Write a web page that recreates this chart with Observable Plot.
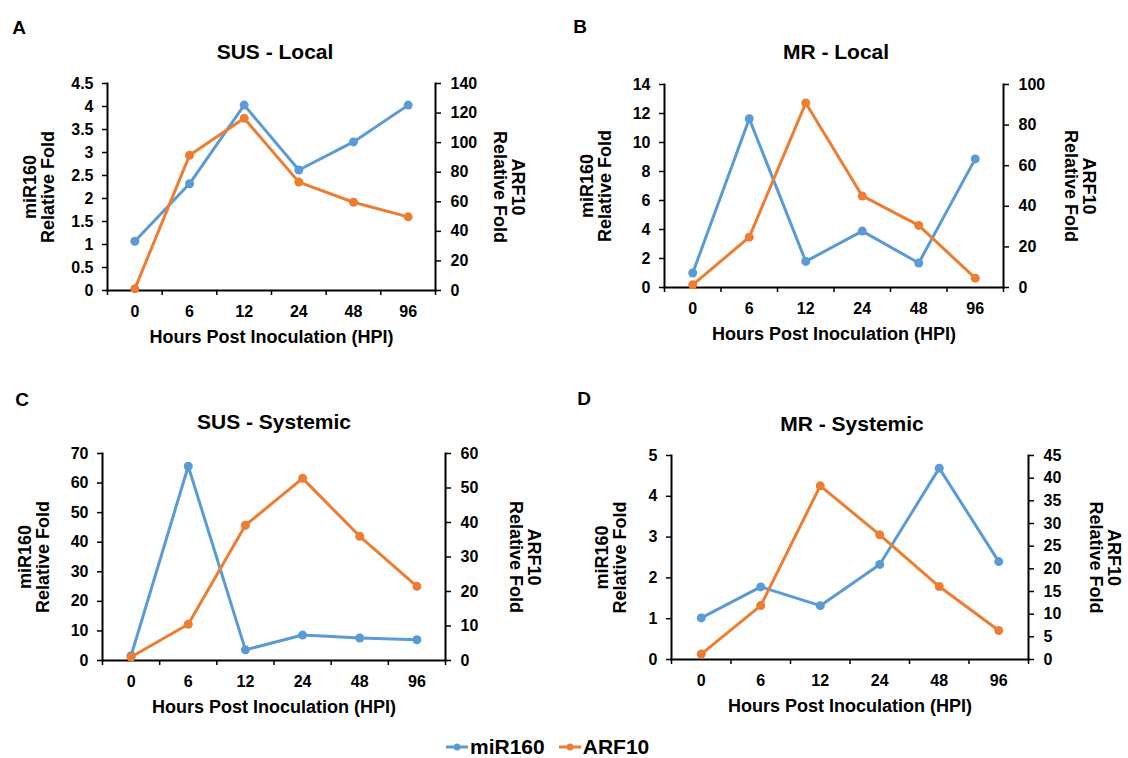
<!DOCTYPE html>
<html><head><meta charset="utf-8">
<script src="https://cdn.jsdelivr.net/npm/d3@7"></script>
<script src="https://cdn.jsdelivr.net/npm/@observablehq/plot@0.6"></script>
<style>
body{margin:0;background:#fff;font-family:"Liberation Sans",Arial,sans-serif;}
#root{position:relative;width:1128px;height:758px;overflow:hidden;background:#fff;}
.abs{position:absolute;transform:translate(-50%,-50%);white-space:nowrap;font-weight:bold;color:#000;line-height:1;}
#root svg{position:absolute;}
.legend{position:absolute;left:446px;top:735px;height:24px;display:flex;align-items:center;font-weight:bold;font-size:21px;color:#000;}
.legend .item{display:flex;align-items:center;margin-right:14px;}
.legend svg{position:static !important;margin-right:2px;}
</style></head><body><div id="root"></div>
<script>
// ---- data ----
const hpi = ["0", "6", "12", "24", "48", "96"];
const panelLetters = ["A", "B", "C", "D"];
const panelTitles = ["SUS - Local", "MR - Local", "SUS - Systemic", "MR - Systemic"];
const seriesNames = ["miR160", "ARF10"];
const seriesColors = ["#5B9BD5", "#ED7D31"];
const xTitle = "Hours Post Inoculation (HPI)";
const leftTitle = "miR160\nRelative Fold";
const rightTitle = "ARF10\nRelative Fold";

const mir160_A = [1.07, 2.32, 4.03, 2.62, 3.23, 4.03];
const arf10_A  = [1.1, 91.4, 116.5, 73.3, 59.7, 49.8];
const mir160_B = [1.0, 11.64, 1.8, 3.89, 1.69, 8.87];
const arf10_B  = [1.3, 24.8, 90.9, 45.1, 30.6, 4.6];
const mir160_C = [1.6, 65.7, 3.6, 8.6, 7.6, 7.0];
const arf10_C  = [1.0, 10.5, 39.2, 52.8, 36.0, 21.5];
const mir160_D = [1.02, 1.78, 1.32, 2.33, 4.69, 2.40];
const arf10_D  = [1.2, 11.9, 38.3, 27.5, 16.1, 6.4];

const leftMax  = [4.5, 14, 70, 5];
const leftStep = [0.5, 2, 10, 1];
const rightMax  = [140, 100, 60, 45];
const rightStep = [20, 20, 10, 5];

// ---- layout ----
const mirs = [mir160_A, mir160_B, mir160_C, mir160_D];
const arfs = [arf10_A, arf10_B, arf10_C, arf10_D];
const layout = [
  {left: 0,   top: 70,  width: 560, height: 290, mL: 107, mR: 125, mT: 13, mB: 70, lx: -68, rx: 73, letter: [19, 27],  title: [275, 51]},
  {left: 560, top: 70,  width: 568, height: 290, mL: 104, mR: 125, mT: 14, mB: 73, lx: -68, rx: 76, letter: [580, 26], title: [836, 51]},
  {left: 0,   top: 440, width: 560, height: 300, mL: 102, mR: 115, mT: 13, mB: 80, lx: -68, rx: 79, letter: [22, 399], title: [274, 421]},
  {left: 560, top: 440, width: 568, height: 300, mL: 111, mR: 100, mT: 15, mB: 81, lx: -60, rx: 76, letter: [584, 398], title: [852, 423]}
];

const root = document.getElementById("root");
const fmt = v => String(+(+v).toFixed(2));

layout.forEach((L, p) => {
  const k = leftMax[p] / rightMax[p];
  const rows = hpi.map((h, i) => ({i, h, mir: mirs[p][i], arf: arfs[p][i]}));
  const xc = d => d.i + 0.5;
  const chart = Plot.plot({
    width: L.width, height: L.height,
    marginLeft: L.mL, marginRight: L.mR, marginTop: L.mT, marginBottom: L.mB,
    x: {domain: [0, hpi.length], axis: null},
    y: {domain: [0, leftMax[p]], axis: null},
    style: {fontFamily: '"Liberation Sans", Arial, sans-serif', fontSize: "16px", fontWeight: "bold", color: "#000", background: "transparent", overflow: "visible"},
    marks: [
      Plot.axisY({anchor: "left", ticks: d3.range(0, leftMax[p] + leftStep[p] / 2, leftStep[p]), tickSize: 5, tickPadding: 9, label: null, tickFormat: fmt, strokeWidth: 1.5}),
      Plot.axisY({anchor: "right", ticks: d3.range(0, rightMax[p] + rightStep[p] / 2, rightStep[p]).map(v => v * k), tickSize: 5, tickPadding: 10, label: null, tickFormat: v => fmt(Math.round(v / k * 100) / 100), strokeWidth: 1.5}),
      Plot.axisX({ticks: d3.range(0, hpi.length + 1), tickSize: 5, tickFormat: () => "", label: null, strokeWidth: 1.5}),
      Plot.axisX({ticks: hpi.map((h, i) => i + 0.5), tickSize: 0, tickPadding: 15, tickFormat: v => hpi[Math.floor(v)], label: null}),
      Plot.frame({anchor: "left", strokeWidth: 2}),
      Plot.frame({anchor: "right", strokeWidth: 2}),
      Plot.frame({anchor: "bottom", strokeWidth: 2}),
      Plot.lineY(rows, {x: xc, y: "mir", stroke: seriesColors[0], strokeWidth: 3}),
      Plot.dot(rows, {x: xc, y: "mir", fill: seriesColors[0], r: 4.5}),
      Plot.lineY(rows, {x: xc, y: d => d.arf * k, stroke: seriesColors[1], strokeWidth: 3}),
      Plot.dot(rows, {x: xc, y: d => d.arf * k, fill: seriesColors[1], r: 4.5}),
      Plot.text([leftTitle], {frameAnchor: "left", textAnchor: "middle", lineAnchor: "middle", rotate: -90, dx: L.lx, fontSize: 18, lineHeight: 1.0}),
      Plot.text([rightTitle], {frameAnchor: "right", textAnchor: "middle", lineAnchor: "middle", rotate: 90, dx: L.rx, fontSize: 18, lineHeight: 1.0}),
      Plot.text([xTitle], {frameAnchor: "bottom", lineAnchor: "middle", dy: 47, fontSize: 18})
    ]
  });
  chart.style.left = L.left + "px";
  chart.style.top = L.top + "px";
  root.appendChild(chart);

  const t = document.createElement("div");
  t.className = "abs";
  t.style.left = L.title[0] + "px"; t.style.top = L.title[1] + "px"; t.style.fontSize = "21px";
  t.textContent = panelTitles[p];
  root.appendChild(t);

  const a = document.createElement("div");
  a.className = "abs";
  a.style.left = L.letter[0] + "px"; a.style.top = L.letter[1] + "px"; a.style.fontSize = "19px";
  a.textContent = panelLetters[p];
  root.appendChild(a);
});

// legend
const leg = document.createElement("div");
leg.className = "legend";
seriesNames.forEach((name, i) => {
  const item = document.createElement("div");
  item.className = "item";
  item.innerHTML = `<svg width="22" height="10"><line x1="0" y1="5" x2="22" y2="5" stroke="${seriesColors[i]}" stroke-width="3"/><circle cx="11" cy="5" r="3.5" fill="${seriesColors[i]}"/></svg><span>${name}</span>`;
  leg.appendChild(item);
});
root.appendChild(leg);
</script>
</body></html>
